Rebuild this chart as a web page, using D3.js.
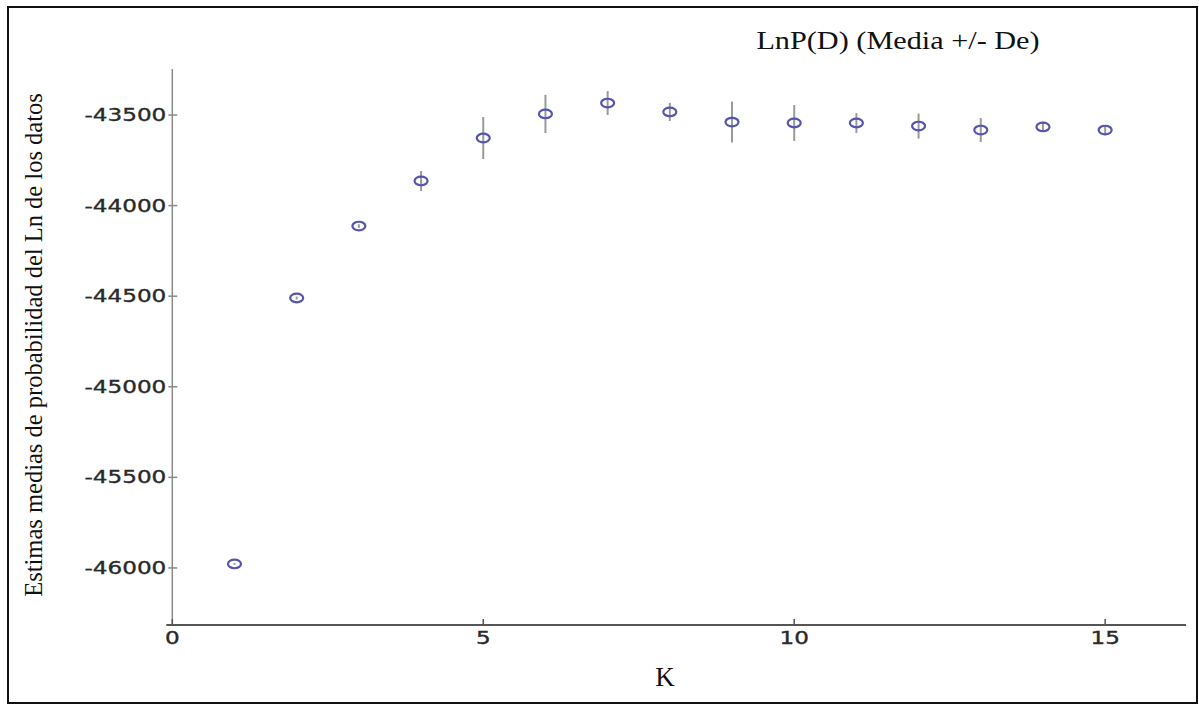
<!DOCTYPE html>
<head>
<style>
  body { margin: 0; background: #fff; }
  .frame { fill: none; stroke: #111; stroke-width: 2; }
  .tick-label { font-family: "DejaVu Sans"; font-size: 17px; fill: #2a2a2a; stroke: #2a2a2a; stroke-width: 0.35; }
  .serif { font-family: "Liberation Serif", "Times New Roman", serif; fill: #111; }
  .errbar { stroke: #9a9a9a; stroke-width: 2; }
  .pt { fill: none; stroke: #5555b0; stroke-width: 2.2; }
</style>
</head>
<body>
<svg width="1199" height="705"></svg>
<script src="https://d3js.org/d3.v7.min.js"></script>
<script>
// mean LnP(D) per K and its standard deviation
var kValues = [1, 2, 3, 4, 5, 6, 7, 8, 9, 10, 11, 12, 13, 14, 15];
var meanLnP = [-45978, -44510, -44113, -43864, -43627, -43494, -43434, -43483,
               -43539, -43544, -43544, -43561, -43583, -43566, -43583];
var sdLnP   = [5, 8, 10, 55, 116, 105, 66, 50, 113, 99, 55, 69, 66, 28, 28];
var xTicks = [0, 5, 10, 15];
var yTicks = [-43500, -44000, -44500, -45000, -45500, -46000];

var data = kValues.map(function(k, i) {
  return {k: k, mean: meanLnP[i], sd: sdLnP[i]};
});

var svg = d3.select("svg");

var x = d3.scaleLinear().domain([0, 16.3]).range([172.3, 1186]);
var y = d3.scaleLinear().domain([-46315, -43246]).range([625, 69]);

// outer frame
svg.append("rect").attr("class", "frame")
    .attr("x", 8).attr("y", 7).attr("width", 1189).attr("height", 696);

// y axis
svg.append("line")
    .attr("x1", x(0)).attr("x2", x(0))
    .attr("y1", y.range()[1]).attr("y2", y.range()[0])
    .attr("stroke", "#8a8a8a").attr("stroke-width", 1.5);

var yg = svg.selectAll(".ytick").data(yTicks).enter().append("g")
    .attr("class", "ytick")
    .attr("transform", function(d) { return "translate(" + x(0) + "," + y(d) + ")"; });
yg.append("line").attr("x1", -4).attr("x2", 5)
    .attr("stroke", "#8a8a8a").attr("stroke-width", 1.5);
yg.append("text").attr("class", "tick-label")
    .attr("text-anchor", "end")
    .attr("dy", "0.36em")
    .attr("transform", "translate(-6,0) scale(1.36,1)")
    .text(function(d) { return d; });

// x axis
svg.append("line")
    .attr("x1", x(0) - 6).attr("x2", x.range()[1])
    .attr("y1", y.range()[0]).attr("y2", y.range()[0])
    .attr("stroke", "#555").attr("stroke-width", 2);

var xg = svg.selectAll(".xtick").data(xTicks).enter().append("g")
    .attr("class", "xtick")
    .attr("transform", function(d) { return "translate(" + x(d) + "," + y.range()[0] + ")"; });
xg.append("line").attr("y1", 0).attr("y2", -6)
    .attr("stroke", "#555").attr("stroke-width", 1.5);
xg.append("text").attr("class", "tick-label")
    .attr("text-anchor", "middle")
    .attr("transform", "translate(0,19) scale(1.36,1)")
    .text(function(d) { return d; });

// error bars: mean +/- sd
svg.selectAll(".errbar").data(data).enter().append("line")
    .attr("class", "errbar")
    .attr("x1", function(d) { return x(d.k); })
    .attr("x2", function(d) { return x(d.k); })
    .attr("y1", function(d) { return y(d.mean + d.sd); })
    .attr("y2", function(d) { return y(d.mean - d.sd); });

// mean markers
svg.selectAll(".pt").data(data).enter().append("ellipse")
    .attr("class", "pt")
    .attr("cx", function(d) { return x(d.k); })
    .attr("cy", function(d) { return y(d.mean); })
    .attr("rx", 6.5).attr("ry", 4.3);

// titles
svg.append("text").attr("class", "serif")
    .attr("text-anchor", "middle")
    .attr("font-size", 25)
    .attr("transform", "translate(898,49) scale(1.21,1)")
    .text("LnP(D) (Media +/- De)");

svg.append("text").attr("class", "serif")
    .attr("text-anchor", "middle")
    .attr("font-size", 27)
    .attr("x", 665).attr("y", 686)
    .text("K");

svg.append("text").attr("class", "serif")
    .attr("text-anchor", "middle")
    .attr("font-size", 24.5)
    .attr("transform", "translate(42,345) rotate(-90)")
    .text("Estimas medias de probabilidad del Ln de los datos");
</script>
</body>
</html>
